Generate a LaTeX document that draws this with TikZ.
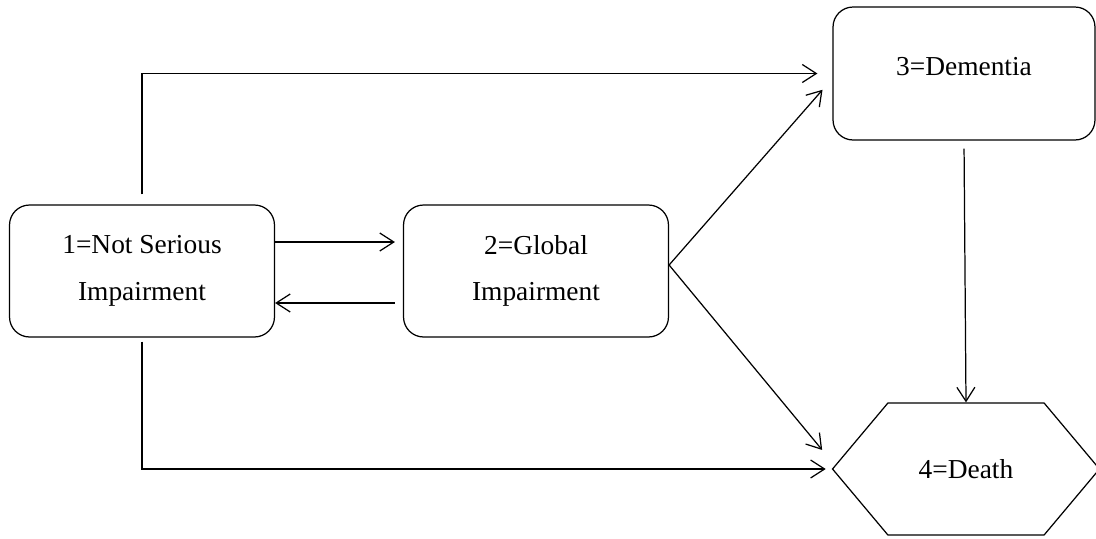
\documentclass[tikz,border=0pt]{standalone}
\usepackage{fontspec}
\setmainfont{Liberation Serif}
\usepackage{tikz}
\usetikzlibrary{arrows.meta}
\usetikzlibrary{shapes.symbols}

\tikzset{
  state/.style={draw, rounded corners=0.4cm, line width=0.7pt, align=center,
    minimum width=5.3cm, minimum height=2.64cm,
    font={\fontsize{15.6}{26.5}\selectfont}},
  death/.style={draw, signal, signal to=west and east, signal pointer angle=100,
    line width=0.7pt, minimum width=5.34cm, minimum height=2.64cm,
    font={\fontsize{15.6}{26.5}\selectfont}},
  arr/.style={-{Straight Barb[length=0.28cm,width=0.36cm]}, line width=0.7pt}
}

\begin{document}
\begin{tikzpicture}[x=0.02cm,y=-0.02cm]
      \useasboundingbox (0,0) rectangle (1096,538);
      \node[state] (nsi) at (142,271) {1=Not Serious\\Impairment};
      \node[state] (gi) at (536,271) {2=Global\\Impairment};
      \node[state, minimum width=5.24cm, minimum height=2.66cm, text depth=0.27cm] (dem) at (964,73.5) {3=Dementia};
      \node[death] (dth) at (966,469) {4=Death};
      \draw[arr, shorten <=0.2cm, shorten >=0.3cm] (nsi.north) |- (dem.west);
      \draw[arr, shorten >=0.16cm] ([yshift=0.58cm]nsi.east) -- ([yshift=0.58cm]gi.west);
      \draw[arr, shorten <=0.16cm] ([yshift=-0.64cm]gi.west) -- ([yshift=-0.64cm]nsi.east);
      \draw[arr, shorten >=0.3cm] ([yshift=0.12cm]gi.east) -- ([yshift=-0.1cm]dem.west);
      \draw[arr, shorten >=0.3cm] ([yshift=0.12cm]gi.east) -- ([yshift=0.15cm]dth.west);
      \draw[arr, shorten <=0.16cm] (dem.south) -- (dth.north);
      \draw[arr, shorten <=0.08cm, shorten >=0.12cm] (nsi.south) |- (dth.west);
  \end{tikzpicture}
\end{document}
